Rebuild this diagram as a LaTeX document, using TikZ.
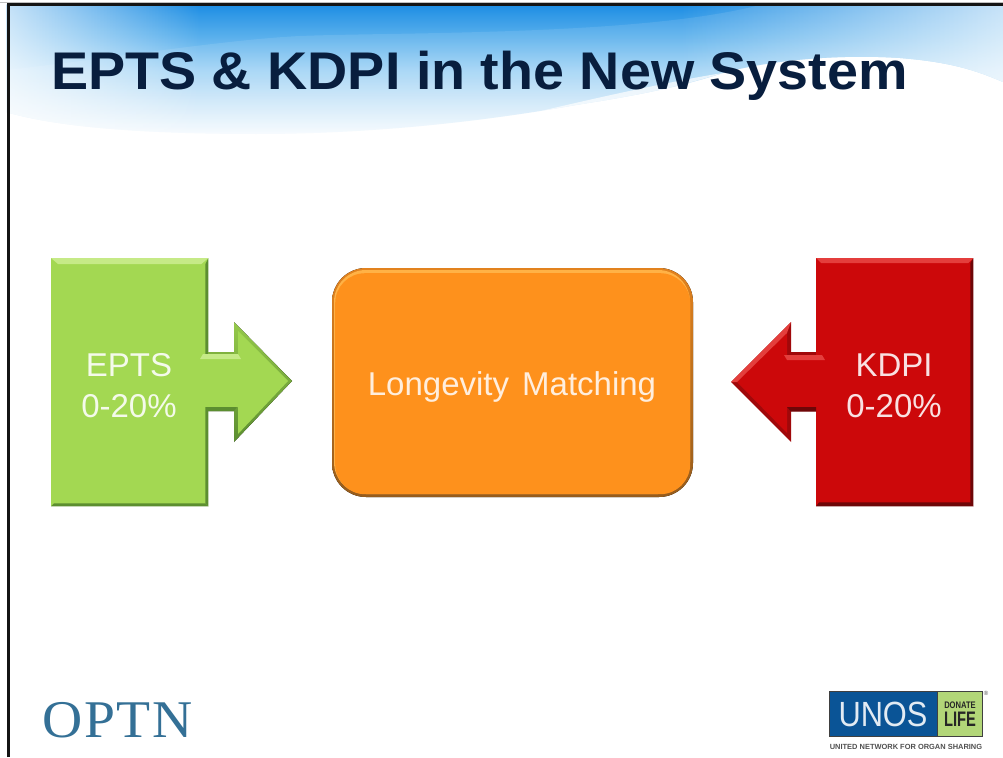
\documentclass[tikz,border=0pt]{standalone}
\usepackage{fontspec}
\setmainfont{Liberation Sans}
\newfontfamily\serifface[LetterSpace=3]{Liberation Serif}
\usetikzlibrary{fadings,calc}
\definecolor{titleink}{RGB}{8,30,62}
\definecolor{skya}{RGB}{30,142,228}
\definecolor{skyb}{RGB}{88,175,236}
\definecolor{skyc}{RGB}{160,211,245}
\definecolor{skyd}{RGB}{205,231,249}
\definecolor{skye}{RGB}{246,251,254}
\definecolor{gfill}{RGB}{163,216,82}
\definecolor{glight}{RGB}{198,234,135}
\definecolor{gdark}{RGB}{92,142,48}
\definecolor{gmid}{RGB}{128,178,62}
\definecolor{rfill}{RGB}{204,8,10}
\definecolor{rlight}{RGB}{228,62,60}
\definecolor{rdark}{RGB}{110,6,8}
\definecolor{rmid}{RGB}{160,8,10}
\definecolor{ofill}{RGB}{254,145,28}
\definecolor{olight}{RGB}{255,178,70}
\definecolor{oedge}{RGB}{226,130,30}
\definecolor{odark}{RGB}{150,92,28}
\definecolor{unosblue}{RGB}{10,84,150}
\definecolor{unosgreen}{RGB}{178,214,120}
\definecolor{optnblue}{RGB}{52,112,150}
\definecolor{unosgrey}{RGB}{80,80,80}
\pgfdeclareverticalshading{skyshade}{100bp}{color(0bp)=(skye);color(25bp)=(skye);color(38bp)=(skyd);color(50bp)=(skyc);color(63bp)=(skyb);color(75bp)=(skya);color(100bp)=(skya)}
\tikzset{
  x=1pt,y=-1pt,
  lbl/.style={font=\fontsize{33}{41}\selectfont,align=center,inner sep=0pt},
  ttl/.style={text=titleink,font=\fontsize{53}{60}\selectfont\bfseries,anchor=base west,inner sep=0pt,xscale=1.05},
  boxnode/.style={minimum width=157pt,minimum height=248pt,inner sep=0pt,anchor=north west},
}
\begin{document}
\begin{tikzpicture}
\useasboundingbox (0,0) rectangle (1003,757);
\fill[white] (0,0) rectangle (1003,757);
% header sky
\begin{scope}
\clip (6,5) -- (1003,5) -- (1003,82) .. controls (975,70) and (950,62) .. (900,58)
  .. controls (840,54) and (770,60) .. (723,73)
  .. controls (670,90) and (620,98) .. (576,105)
  .. controls (480,122) and (370,134) .. (256,134)
  .. controls (150,134) and (60,128) .. (6,112) -- cycle;
\path[shading=skyshade] (6,5) rectangle (1003,134);
\fill[white,opacity=.1] (6,70) .. controls (100,60) and (220,40) .. (300,36)
  .. controls (400,32) and (640,36) .. (760,5) -- (1003,5) -- (1003,140) -- (6,140) -- cycle;
\fill[white,path fading=east,opacity=.75] (6,5) rectangle (200,140);
\fill[white,path fading=west,opacity=.72] (680,5) rectangle (1003,140);
\fill[white,opacity=.7] (520,116) .. controls (600,104) and (660,92) .. (723,73)
  .. controls (690,78) and (620,92) .. (520,116) -- cycle;
\end{scope}
% frame
\draw[black!25,line width=1pt] (0,2.5) -- (1003,2.5);
\draw[black!92,line width=3pt] (8.3,757) -- (8.3,5) -- (1003,5);
\node[ttl] (title) at (51,89.5) {EPTS \& KDPI in the New System};
% green arrow + box
\fill[top color=gfill!60!gmid,bottom color=gdark] (208,353) -- (234,353) -- (234,322) -- (292,381) -- (234,442) -- (234,411) -- (208,411) -- cycle;
\fill[gfill] (204,358) -- (238,358) -- (238,331) -- (288,381) -- (238,434) -- (238,407) -- (204,407) -- cycle;
\fill[gdark] (208,411) -- (234,411) -- (237,407) -- (208,407) -- cycle;
\node[boxnode,fill=gfill] (ebox) at (51,258) {};
\fill[glight] (ebox.north west) -- (ebox.north east) -- ++(-7,6) -- ($(ebox.north west)+(7,6)$) -- cycle;
\fill[gdark] (ebox.north east) -- (ebox.south east) -- ++(-3,-3) -- ($(ebox.north east)+(-3,6)$) -- cycle;
\fill[gdark] (ebox.south west) -- (ebox.south east) -- ++(-3,-3) -- ($(ebox.south west)+(3,-3)$) -- cycle;
\fill[gfill] (200,358) rectangle (210,407);
\fill[gmid] (208,352) rectangle (234,355);
\fill[glight] (203,354) -- (238,354) -- (241,359) -- (200,359) -- cycle;
\node[lbl,text=white!88!gfill] (elabel) at (129,385.5) {EPTS\\0-20\%};
% red arrow + box
\fill[rmid] (816,353) -- (791,353) -- (791,322) -- (731,382) -- (791,442) -- (791,411) -- (816,411) -- cycle;
\fill[rfill] (820,358) -- (787,358) -- (787,333) -- (737,382) -- (787,433) -- (787,407) -- (820,407) -- cycle;
\fill[rlight] (791,322) -- (731,382) -- (737,382) -- (787,333) -- cycle;
\node[boxnode,fill=rfill] (kbox) at (816,258) {};
\fill[rlight] (kbox.north west) -- (kbox.north east) -- ++(-5,5) -- ($(kbox.north west)+(5,5)$) -- cycle;
\fill[rdark] (kbox.north east) -- (kbox.south east) -- ++(-3,-4) -- ($(kbox.north east)+(-3,5)$) -- cycle;
\fill[rdark] (kbox.south west) -- (kbox.south east) -- ++(-3,-4) -- ($(kbox.south west)+(3,-4)$) -- cycle;
\fill[rfill] (812,358) rectangle (825,407);
\fill[rmid] (791,352) rectangle (816,355);
\fill[rlight] (784,355) -- (822,355) -- (825,360) -- (787,360) -- cycle;
\fill[rdark] (791,411.5) -- (816,411.5) -- (816,407) -- (787,407) -- cycle;
\node[lbl,text=white!88!rfill] (klabel) at (894,385.5) {KDPI\\0-20\%};
% orange
\fill[top color=oedge,middle color=oedge,bottom color=odark,rounded corners=34pt] (332,268) rectangle (693,497);
\fill[olight,rounded corners=32pt] (334,270) rectangle (690,494);
\node[fill=ofill,rounded corners=30pt,minimum width=355pt,minimum height=221pt,inner sep=0pt,anchor=north west] (obox) at (335,273) {};
\node[lbl,text=white!85!ofill] (olabel) at (512,387) {Longevity\hspace{.12em} Matching};
% OPTN
\node[text=optnblue,font=\serifface\fontsize{53}{54}\selectfont,anchor=base west,inner sep=0pt,xscale=1.05] (optn) at (42,737) {OPTN};
% UNOS logo
\node[fill=unosblue,draw=black!75,line width=1pt,minimum width=153pt,minimum height=45pt,inner sep=0pt,anchor=north west] (unos) at (829,691) {};
\node[fill=unosgreen,draw=black!75,line width=1pt,minimum width=45pt,minimum height=45pt,inner sep=0pt,anchor=north east] (dlife) at (unos.north east) {};
\node[text=white!88!unosblue,font=\fontsize{35}{35}\selectfont,inner sep=0pt,xscale=.88] (unostext) at (883,714) {UNOS};
\node[text=black!85,font=\bfseries\fontsize{9.5}{10}\selectfont,inner sep=0pt,xscale=.8] (donate) at (dlife.center |- 0,705.5) {DONATE};
\node[text=black!85,font=\bfseries\fontsize{21}{21}\selectfont,inner sep=0pt,xscale=.7] (life) at (dlife.center |- 0,719.5) {LIFE};
\node[text=unosgrey,font=\bfseries\fontsize{7.45}{8}\selectfont,inner sep=0pt] (unet) at (906,747) {UNITED NETWORK FOR ORGAN SHARING};
\node[text=unosgrey,font=\fontsize{6}{6}\selectfont,inner sep=0pt] (reg) at (986,693) {®};
\end{tikzpicture}
\end{document}
